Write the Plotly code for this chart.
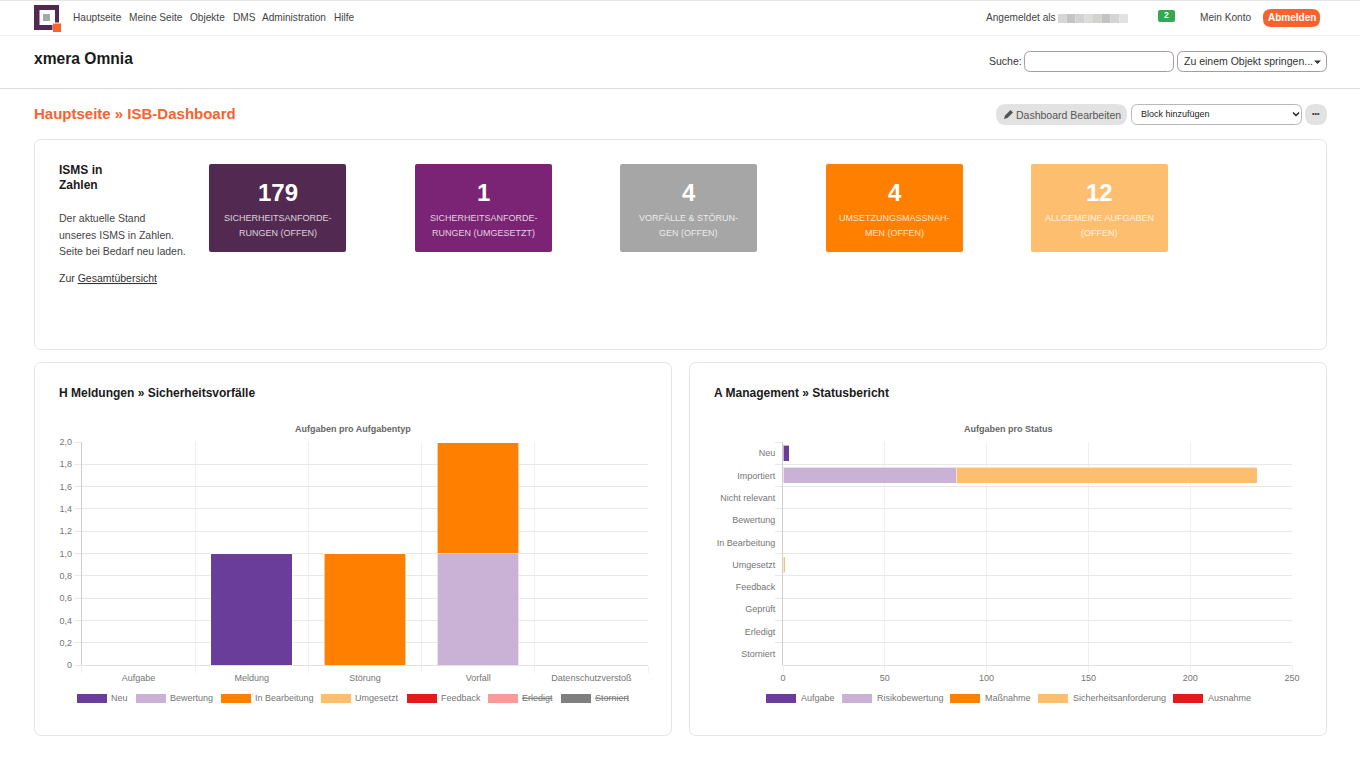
import plotly.graph_objects as go

W, H = 1360, 762
FONT = "Liberation Sans"

# tiles
tile_values = ["179", "1", "4", "4", "12"]
tile_labels = [
    ["SICHERHEITSANFORDE-", "RUNGEN (OFFEN)"],
    ["SICHERHEITSANFORDE-", "RUNGEN (UMGESETZT)"],
    ["VORFÄLLE & STÖRUN-", "GEN (OFFEN)"],
    ["UMSETZUNGSMASSNAH-", "MEN (OFFEN)"],
    ["ALLGEMEINE AUFGABEN", "(OFFEN)"],
]

# left chart
typ_categories = ["Aufgabe", "Meldung", "Störung", "Vorfall", "Datenschutzverstoß"]
neu = [0, 1, 0, 0, 0]
bewertung = [0, 0, 0, 1, 0]
in_bearbeitung = [0, 0, 1, 1, 0]
umgesetzt = [0, 0, 0, 0, 0]
feedback = [0, 0, 0, 0, 0]
erledigt = [0, 0, 0, 0, 0]
storniert = [0, 0, 0, 0, 0]
y_ticks = [0, 0.2, 0.4, 0.6, 0.8, 1.0, 1.2, 1.4, 1.6, 1.8, 2.0]
y_labels = ["0", "0,2", "0,4", "0,6", "0,8", "1,0", "1,2", "1,4", "1,6", "1,8", "2,0"]

# right chart
status_categories = ["Neu", "Importiert", "Nicht relevant", "Bewertung", "In Bearbeitung",
                     "Umgesetzt", "Feedback", "Geprüft", "Erledigt", "Storniert"]
aufgabe = [3, 0, 0, 0, 0, 0, 0, 0, 0, 0]
risikobewertung = [0, 85, 0, 0, 0, 0, 0, 0, 0, 0]
massnahme = [0, 0, 0, 0, 0, 0, 0, 0, 0, 0]
sicherheitsanforderung = [0, 148, 0, 0, 0, 1, 0, 0, 0, 0]
ausnahme = [0, 0, 0, 0, 0, 0, 0, 0, 0, 0]

palette = ["#6a3d9a", "#cab2d6", "#ff7f00", "#fdbf6f", "#e31a1c", "#fb9a99", "#7f7f7f"]
GRID_H = "#e8e8e8"
GRID_V = "#f0f0f0"
TICK = "#757575"
ORANGE = "#f9622f"


def fx(x):
    return x / W


def fy(y):
    return 1 - y / H


shapes = []
annotations = []


def rect(x0, y0, x1, y1, fill="white", line=None, lw=1, r=0):
    if r:
        X0, X1, Y0, Y1 = fx(x0), fx(x1), fy(y0), fy(y1)
        rx, ry = r / W, r / H
        path = (f"M{X0 + rx},{Y0} L{X1 - rx},{Y0} Q{X1},{Y0} {X1},{Y0 - ry} "
                f"L{X1},{Y1 + ry} Q{X1},{Y1} {X1 - rx},{Y1} L{X0 + rx},{Y1} "
                f"Q{X0},{Y1} {X0},{Y1 + ry} L{X0},{Y0 - ry} Q{X0},{Y0} {X0 + rx},{Y0} Z")
        geom = dict(type="path", path=path)
    else:
        geom = dict(type="rect", x0=fx(x0), x1=fx(x1), y0=fy(y0), y1=fy(y1))
    shapes.append(dict(xref="paper", yref="paper", layer="below", fillcolor=fill,
                       line=dict(color=line or "rgba(0,0,0,0)", width=lw if line else 0), **geom))


def poly(points, fill):
    path = "M" + " L".join(f"{fx(a)},{fy(b)}" for a, b in points) + " Z"
    shapes.append(dict(type="path", path=path, xref="paper", yref="paper", layer="below",
                       fillcolor=fill, line=dict(width=0)))


def txt(x, y, s, size=10, color="#333333", anchor="left"):
    annotations.append(dict(x=fx(x), y=fy(y), xref="paper", yref="paper", text=s, showarrow=False,
                            xanchor=anchor, yanchor="middle", borderpad=0, borderwidth=0,
                            font=dict(family=FONT, size=size, color=color)))


# header bands
rect(0, 0, W, 1, "#e4e4e4")
rect(0, 35, W, 36, "#efefef")
rect(0, 88, W, 89, "#dddddd")

# logo
rect(34, 5, 59, 30, "#522a51")
rect(39.5, 10, 55, 25, "white")
rect(43, 14, 50, 21, "#a8a8a8")
rect(52.5, 22.5, 61, 32, "white")
rect(53, 23.5, 61, 32, ORANGE)

nav_items = ["Hauptseite", "Meine Seite", "Objekte", "DMS", "Administration", "Hilfe"]
for x, s in zip([73, 129, 190, 233, 262, 334], nav_items):
    txt(x, 18, s, 10.1, "#444444")

txt(986, 18, "Angemeldet als", 10.1, "#444444")
blur = ["#d6d6d6", "#c4c4c4", "#d2d2d2", "#dcdcdc", "#d4d2ce", "#c2c4c4", "#d4d4d4", "#e2e2e2"]
for i, c in enumerate(blur):
    rect(1058 + i * 8.75, 14, 1058 + (i + 1) * 8.75, 23, c)
rect(1158, 10, 1175, 22, "#34a853", r=2)
txt(1166.5, 15, "<b>2</b>", 8.5, "white", "center")
txt(1200, 18, "Mein Konto", 10.1, "#444444")
rect(1263, 9, 1320, 27, ORANGE, r=8)
txt(1291.5, 18, "<b>Abmelden</b>", 10, "white", "center")

txt(34, 58.5, "<b>xmera Omnia</b>", 15.6, "#1a1a1a")
txt(988.5, 61, "Suche:", 10.5, "#333333")
rect(1024.5, 51.5, 1173.5, 71.5, "white", "#a89a9a", 1, r=6)
rect(1177.5, 51.5, 1326.5, 71.5, "white", "#a89a9a", 1, r=6)
txt(1184, 61, "Zu einem Objekt springen...", 10.5, "#333333")
poly([(1314, 60.5), (1321, 60.5), (1317.5, 64)], "#333333")

txt(34, 113, "<b>Hauptseite » ISB-Dashboard</b>", 15, ORANGE)

rect(996, 104, 1127, 125, "#e2e2e2", r=10)
poly([(1004, 119), (1005, 115.5), (1010.5, 110), (1013, 112.5), (1007.5, 118)], "#555555")
txt(1016, 114.5, "Dashboard Bearbeiten", 10.5, "#555555")
rect(1131.5, 104.5, 1301.5, 124.5, "white", "#b8b8b8", 1, r=6)
txt(1141, 114, "Block hinzufügen", 9, "#222222")
shapes.append(dict(type="path", xref="paper", yref="paper", layer="below",
                   path=f"M{fx(1293)},{fy(112.5)} L{fx(1296)},{fy(115.5)} L{fx(1299)},{fy(112.5)}",
                   line=dict(color="#222222", width=1.5)))
rect(1305, 104, 1327, 125, "#e2e2e2", r=10)
txt(1316, 114, "<b>•••</b>", 7, "#333333", "center")

# cards
rect(34.5, 139.5, 1326.5, 349.5, "white", "#e4e4e4", 1, r=7)
rect(34.5, 362.5, 671.5, 735.5, "white", "#e4e4e4", 1, r=7)
rect(689.5, 362.5, 1326.5, 735.5, "white", "#e4e4e4", 1, r=7)

txt(59, 170, "<b>ISMS in</b>", 12, "#1a1a1a")
txt(59, 185, "<b>Zahlen</b>", 12, "#1a1a1a")
txt(59, 218, "Der aktuelle Stand", 10.5, "#444444")
txt(59, 235, "unseres ISMS in Zahlen.", 10.5, "#444444")
txt(59, 251, "Seite bei Bedarf neu laden.", 10.5, "#444444")
txt(59, 278.5, "Zur <u>Gesamtübersicht</u>", 10.5, "#333333")

tile_x = [209, 415, 620, 826, 1031]
tile_colors = ["#522a51", "#7b2374", "#a6a6a6", "#ff7f00", "#fdbf6f"]
for x, c, v, lab in zip(tile_x, tile_colors, tile_values, tile_labels):
    rect(x, 164, x + 137, 252, c, r=2)
    txt(x + 68.5, 193, f"<b>{v}</b>", 24, "white", "center")
    txt(x + 68.5, 218, lab[0], 9, "rgba(255,255,255,0.8)", "center")
    txt(x + 68.5, 233, lab[1], 9, "rgba(255,255,255,0.8)", "center")

txt(59, 393, "<b>H Meldungen » Sicherheitsvorfälle</b>", 12, "#1a1a1a")
txt(714, 393, "<b>A Management » Statusbericht</b>", 12, "#1a1a1a")
txt(353, 428.5, "<b>Aufgaben pro Aufgabentyp</b>", 9, "#666666", "center")
txt(1008, 428.5, "<b>Aufgaben pro Status</b>", 9, "#666666", "center")

# legends
left_names = ["Neu", "Bewertung", "In Bearbeitung", "Umgesetzt", "Feedback", "<s>Erledigt</s>", "<s>Storniert</s>"]
left_legend_x = [77, 136, 221, 321, 407, 488, 561]
for x, c, s in zip(left_legend_x, palette, left_names):
    rect(x, 694, x + 30, 703, c)
    txt(x + 34, 698, s, 9, TICK)

right_names = ["Aufgabe", "Risikobewertung", "Maßnahme", "Sicherheitsanforderung", "Ausnahme"]
right_legend_x = [766, 842, 950, 1038, 1173]
for x, c, s in zip(right_legend_x, palette, right_names):
    rect(x, 694, x + 30, 703, c)
    txt(x + 35, 698, s, 9, TICK)

fig = go.Figure()

left_series = [neu, bewertung, in_bearbeitung, umgesetzt, feedback, erledigt, storniert]
for vals, c, name in zip(left_series, palette, left_names):
    fig.add_trace(go.Bar(x=typ_categories, y=vals, name=name, marker=dict(color=c, line=dict(color="rgba(255,255,255,0.6)", width=1)),
                         width=0.72, xaxis="x", yaxis="y", showlegend=False))

right_series = [aufgabe, risikobewertung, massnahme, sicherheitsanforderung, ausnahme]
for vals, c, name in zip(right_series, palette, right_names):
    fig.add_trace(go.Bar(y=status_categories, x=vals, name=name, orientation="h",
                         marker=dict(color=c, line=dict(color="rgba(255,255,255,0.6)", width=1)),
                         width=0.72, xaxis="x2", yaxis="y2", showlegend=False))

axis_common = dict(automargin=False, showgrid=True, gridwidth=1, zeroline=False, showline=True,
                   linewidth=1, ticks="outside", ticklen=7,
                   tickfont=dict(family=FONT, size=9, color=TICK))
vert_grid = dict(gridcolor=GRID_V, tickcolor=GRID_V, linecolor="#e2e2e2")   # x axes
horz_grid = dict(gridcolor=GRID_H, tickcolor=GRID_H, linecolor="#cfcfcf")   # y axes

fig.update_layout(
    template="none",
    width=W, height=H, autosize=False, margin=dict(l=0, r=0, t=0, b=0, pad=0),
    paper_bgcolor="white", plot_bgcolor="rgba(0,0,0,0)", barmode="stack", bargap=0.28,
    showlegend=False, shapes=shapes, annotations=annotations, font=dict(family=FONT),
    xaxis=dict(domain=[fx(81.8), fx(648)], anchor="y", type="category", tickson="boundaries",
               ticklabelstandoff=4, **axis_common, **vert_grid),
    yaxis=dict(domain=[fy(665), fy(442)], anchor="x", range=[0, 2], tickmode="array", tickvals=y_ticks,
               ticktext=y_labels, **axis_common, **horz_grid),
    xaxis2=dict(domain=[fx(783), fx(1292)], anchor="y2", range=[0, 250], tickmode="array",
                tickvals=[0, 50, 100, 150, 200, 250], ticklabelstandoff=-3, **axis_common, **vert_grid),
    yaxis2=dict(domain=[fy(665), fy(442)], anchor="x2", type="category", tickson="boundaries",
                categoryorder="array", categoryarray=status_categories, range=[9.5, -0.5],
                ticklabelstandoff=5, **axis_common, **horz_grid),
)

fig.write_html("out.html", config=dict(displayModeBar=False),
               post_script="document.body.style.margin='0';document.body.style.overflow='hidden';")
